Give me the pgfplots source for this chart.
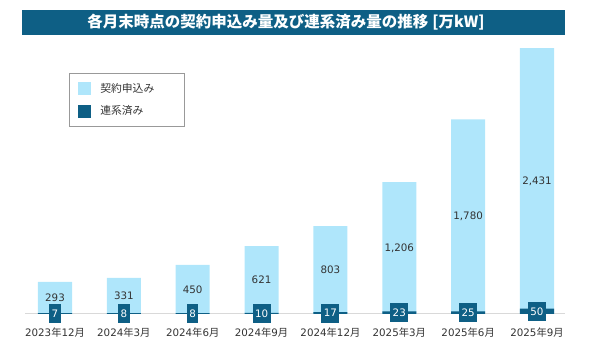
\documentclass[border=0pt]{standalone}
\usepackage{fontspec}
\setmainfont{DejaVu Sans}
\newfontfamily\cjk{Noto Sans CJK JP}
\usepackage{pgfplots}
\usepackage{pgfplotstable}
\pgfplotsset{compat=1.18}
\definecolor{lightb}{HTML}{AFE6FB}
\definecolor{darkb}{HTML}{0E5F85}
\definecolor{txt}{HTML}{333333}
\newcommand\Y{{\cjk 年}}
\newcommand\M{{\cjk 月}}
\pgfplotstableread{
x apply conn
0 293 7
1 331 8
2 450 8
3 621 10
4 803 17
5 1206 23
6 1780 25
7 2431 50
}\datatable
\begin{document}
\begin{tikzpicture}
\path[use as bounding box] (0,0) rectangle (590pt,347pt);
\fill[darkb] (22pt,312pt) rectangle (565pt,337pt);
\node[text=white, font=\cjk\bfseries\fontsize{15.5}{18}\selectfont] at (286pt,324.5pt) {各月末時点の契約申込み量及び連系済み量の推移\hspace{4pt}[万kW]};
\begin{axis}[
  at={(25pt,33pt)}, anchor=south west,
  scale only axis, width=540pt, height=273.5pt,
  xmin=-0.4357, xmax=7.4066, ymin=0, ymax=2500,
  axis x line*=bottom, axis y line=none,
  x axis line style={-, draw=black!15, line width=1pt},
  xtick={0,...,7},
  xticklabels={{2023\Y12\M},{2024\Y3\M},{2024\Y6\M},{2024\Y9\M},{2024\Y12\M},{2025\Y3\M},{2025\Y6\M},{2025\Y9\M}},
  major tick length=0pt,
  xticklabel style={font=\fontsize{10.3}{12}\selectfont, text=txt, yshift=-10pt},
  /pgf/number format/assume math mode=true,
  clip=false,
  legend style={at={(0.0815,0.881)}, anchor=north west, draw=black!40, line width=0.6pt,
    font=\cjk\fontsize{10.8}{12}\selectfont, text=txt, inner xsep=9pt, inner ysep=8pt, row sep=8pt},
  legend cell align=left,
]
\addplot[ybar, bar width=0.494, bar shift=0pt, fill=lightb, draw=none,
  legend image code/.code={\fill[lightb] (0pt,-6.5pt) rectangle (13pt,6.5pt);}]
  table[x=x,y=apply]{\datatable};
\addlegendentry{\hspace{7pt}\makebox[73pt][l]{契約申込み}}
\addplot[ybar, bar width=0.494, bar shift=0pt, fill=darkb, draw=none,
  legend image code/.code={\fill[darkb] (0pt,-6.5pt) rectangle (13pt,6.5pt);}]
  table[x=x,y=conn]{\datatable};
\addlegendentry{\hspace{7pt}\makebox[73pt][l]{連系済み}}
\addplot[draw=none, mark=none, forget plot, nodes near coords, point meta=explicit,
  nodes near coords style={anchor=center, font=\fontsize{10.3}{12}\selectfont, text=txt}]
  table[x=x, y expr=\thisrow{apply}/2, meta=apply]{\datatable};
\addplot[draw=none, mark=none, forget plot, nodes near coords, point meta=explicit,
  nodes near coords style={anchor=center, fill=darkb, text=white, inner xsep=2.5pt, inner ysep=0pt,
    minimum height=19pt, font=\fontsize{10.3}{12}\selectfont}]
  table[x=x, y expr=\thisrow{conn}/2, meta=conn]{\datatable};
\end{axis}
\end{tikzpicture}
\end{document}
